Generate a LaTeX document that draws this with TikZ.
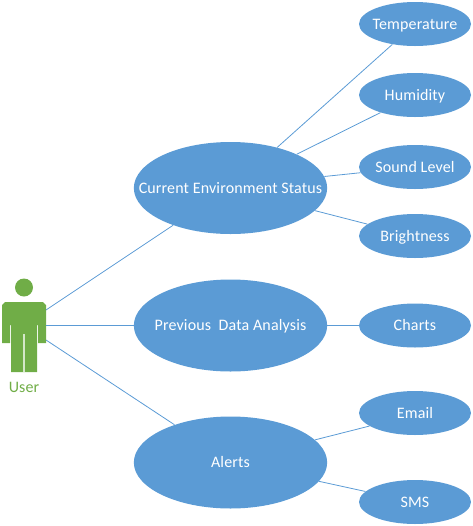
\documentclass[tikz,border=0pt]{standalone}
\usepackage{fontspec}
\setmainfont{Carlito}
\newfontfamily\casefont[LetterSpace=0.9]{Carlito}
\usetikzlibrary{shapes.geometric}
\definecolor{caseblue}{HTML}{5B9BD5}
\definecolor{usergreen}{HTML}{70AD47}
\tikzset{
  casetext/.style={font=\casefont\fontsize{12}{14}\selectfont,text height=8.6pt,text depth=0.8pt},
  bigcase/.style={ellipse,fill=caseblue,text=white,inner ysep=0pt,inner xsep=-30pt,minimum width=145pt,minimum height=69pt,casetext},
  smallcase/.style={ellipse,fill=caseblue,text=white,inner ysep=0pt,inner xsep=-10pt,minimum width=84pt,minimum height=33pt,casetext},
  link/.style={draw=caseblue,line width=0.6pt}
}
\begin{document}
\begin{tikzpicture}[x=0.75pt,y=-0.75pt]
  \useasboundingbox (0,0) rectangle (473,526);
  \fill[usergreen] (24,287.5) circle[radius=9];
  \fill[usergreen] (5,302) -- (43,302) -- (46,305) -- (46,343) -- (38,343) -- (38,325) -- (37,325)
    -- (37,372) -- (11,372) -- (11,325) -- (10,325) -- (10,343) -- (2,343) -- (2,305) -- cycle;
  \draw[white!70!usergreen,line width=0.9pt] (24,334) -- (24,372);
  \node[text=usergreen,casetext] (user) at (24,387) {User};
  \coordinate (userA) at (46,310);
  \coordinate (userB) at (46,325.5);
  \coordinate (userC) at (46,340);
  \node[bigcase] (current) at (230.5,188) {Current Environment Status};
  \node[bigcase] (previous) at (230.5,325.5) {Previous\ \ Data Analysis};
  \node[bigcase] (alerts) at (230.5,462.5) {Alerts};
  \foreach \name/\y/\txt in {
    temp/24/Temperature,humid/95/Humidity,sound/167/Sound Level,bright/236/Brightness,
    charts/325.5/Charts,email/413/Email,sms/502/SMS}
    \node[smallcase] (\name) at (415,\y) {\txt};
  \draw[link] (userA) -- (current.213);
  \draw[link] (userB) -- (previous.west);
  \draw[link] (userC) -- (alerts.146);
  \draw[link] (current.41) -- (temp.222);
  \draw[link] (current.27) -- (humid.207);
  \draw[link] (current.7) -- (sound.186);
  \draw[link] (current.-15) -- (bright.166);
  \draw[link] (previous.east) -- (charts.west);
  \draw[link] (alerts.15) -- (email.196);
  \draw[link] (alerts.-12) -- (sms.168);
\end{tikzpicture}
\end{document}
